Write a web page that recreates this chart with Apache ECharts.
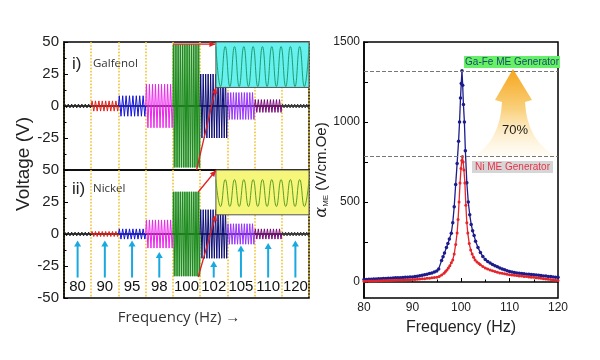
<!DOCTYPE html>
<html><head><meta charset="utf-8">
<script src="https://cdn.jsdelivr.net/npm/echarts@6/dist/echarts.min.js"></script>
<style>html,body{margin:0;padding:0;background:#fff}#c{width:600px;height:360px}</style>
</head><body><div id="c"></div>
<script>
// ---- data ----
const freqLabels = ['80','90','95','98','100','102','105','110','120'];
const galfenolAmp = [1.5, 4, 8, 17, 48, 25, 10.5, 5, 1.5];   // V, upper panel
const nickelAmp   = [1.5, 2, 4, 11, 33, 19, 8, 4, 1.5];      // V, lower panel
const arrowTips   = [-5, -5, -5, -14, null, -21, -9, -7, -5];
const galfenolPeak = 1320;
const nickelPeak = 785;
const galfenolCurve = [[80,15],[80.5,16],[81,17],[81.5,17],[82,18],[82.5,19],[83,20],[83.5,21],[84,22],[84.5,22],[85,23],[85.5,24],[86,25],[86.5,26],[87,27],[87.5,27],[88,28],[88.5,29],[89,30],[89.5,31],[90,32],[90.5,34],[91,36],[91.5,39],[92,42],[92.5,45],[93,49],[93.5,53],[94,57],[94.5,62],[95,68],[95.4,82],[96,135],[96.3,158],[96.6,182],[97,215],[97.3,240],[97.6,268],[98,305],[98.3,370],[98.6,470],[98.9,610],[99.2,740],[99.5,880],[99.7,1000],[99.9,1150],[100.05,1240],[100.2,1320],[100.35,1230],[100.5,1110],[100.7,1000],[100.9,820],[101.2,620],[101.5,500],[101.8,420],[102.1,360],[102.4,320],[102.7,290],[103,255],[103.5,215],[104,185],[104.5,160],[105,140],[105.5,128],[106,118],[106.5,110],[107,102],[107.5,95],[108,88],[108.5,82],[109,76],[109.5,71],[110,66],[110.5,63],[111,60],[111.5,57],[112,55],[112.5,53],[113,51],[113.5,49],[114,48],[114.5,47],[115,46],[115.5,44],[116,42],[116.5,40],[117,38],[117.5,37],[118,35],[118.5,34],[119,32],[119.5,30],[120,29]];
const nickelCurve = [[80,5],[80.5,5],[81,6],[81.5,6],[82,7],[82.5,7],[83,8],[83.5,8],[84,9],[84.5,9],[85,10],[85.5,10],[86,11],[86.5,11],[87,12],[87.5,12],[88,13],[88.5,13],[89,14],[89.5,14],[90,15],[90.5,16],[91,17],[91.5,18],[92,20],[92.5,21],[93,23],[93.5,24],[94,26],[94.5,28],[95,30],[95.5,35],[96,43],[96.5,55],[96.8,65],[97.1,75],[97.4,88],[97.7,102],[98,120],[98.3,138],[98.6,175],[98.9,235],[99.2,306],[99.4,390],[99.6,500],[99.8,619],[100,710],[100.15,760],[100.3,785],[100.45,750],[100.6,700],[100.8,619],[101,480],[101.2,370],[101.4,306],[101.7,240],[102,200],[102.3,175],[102.6,155],[102.9,138],[103.3,125],[103.7,115],[104,108],[104.5,97],[105,88],[105.5,81],[106,75],[106.5,70],[107,65],[107.5,61],[108,57],[108.5,54],[109,51],[109.5,48],[110,46],[110.5,44],[111,42],[111.5,40],[112,38],[112.5,37],[113,35],[113.5,34],[114,32],[114.5,30],[115,29],[115.5,27],[116,25],[116.5,23],[117,21],[117.5,19],[118,17],[118.5,15],[119,13],[119.5,11],[120,10]];

// ---- styles ----
const segColors = ['#222222','#e8201a','#1414e0','#ee22ee','#1a8a1a','#0c0c78','#9933ff','#7a0a7a','#3a3a3a'];
const segCycles = [8, 8, 8, 9, 15, 11, 10, 9, 9];
const FONT = 'Liberation Sans, Arial, sans-serif';

function waveRender(params, api) {
  const i = api.value(0), amp = api.value(1);
  const c = api.coord([i, 0]);
  const sz = api.size([1, amp]);
  const bw = sz[0], a = sz[1];
  const n = segCycles[i] * 2;
  const x0 = c[0] - bw / 2;
  const pts = [[x0, c[1]]];
  for (let k = 0; k < n; k++) pts.push([x0 + (k + 0.5) * bw / n, c[1] + (k % 2 ? a : -a)]);
  pts.push([x0 + bw, c[1]]);
  return {type: 'polyline', shape: {points: pts}, style: {stroke: segColors[i], lineWidth: 1, fill: null}};
}

function arrowRender(params, api) {
  const i = api.value(0), t = api.value(1);
  const tip = api.coord([i, t]), base = api.coord([i, -34]);
  const h = 6, w = 3.5, col = '#1aa8e0';
  return {type: 'group', children: [
    {type: 'line', shape: {x1: tip[0], y1: base[1], x2: tip[0], y2: tip[1] + h - 1}, style: {stroke: col, lineWidth: 2}},
    {type: 'polygon', shape: {points: [[tip[0], tip[1]], [tip[0] - w, tip[1] + h], [tip[0] + w, tip[1] + h]]}, style: {fill: col}}
  ]};
}

function arrowHead(p0, p1, col) {
  const dx = p1[0] - p0[0], dy = p1[1] - p0[1];
  const L = Math.sqrt(dx*dx + dy*dy) || 1;
  const ux = dx / L, uy = dy / L, h = 6, w = 2.8;
  const bx = p1[0] - ux * h, by = p1[1] - uy * h;
  return {type: 'polygon', shape: {points: [[p1[0], p1[1]], [bx - uy * w, by + ux * w], [bx + uy * w, by - ux * w]]}, style: {fill: col}};
}

function insetRender(cfg) {
  return function (params, api) {
    const c0 = api.coord([0, 0]);
    const bw = api.size([1, 0])[0];
    const X = u => c0[0] - bw / 2 + u * bw;
    const Y = v => api.coord([0, v])[1];
    const x0 = X(cfg.x0), x1 = X(9), yt = Y(cfg.yt), yb = Y(cfg.yb);
    const n = cfg.cycles * 2;
    const pts = [];
    for (let k = 0; k <= n; k++) pts.push([x0 + k * (x1 - x0) / n, Y(cfg.mid + (k % 2 ? -cfg.amp : cfg.amp))]);
    const children = [
      {type: 'rect', shape: {x: x0, y: yt, width: x1 - x0, height: yb - yt}, style: {fill: cfg.fill, stroke: '#555', lineWidth: 1}},
      {type: 'polyline', shape: {points: pts, smooth: 0.5}, style: {stroke: cfg.wave, lineWidth: 1, fill: null}}
    ];
    cfg.lines.forEach(l => {
      const p0 = [X(l[0][0]), Y(l[0][1])], p1 = [X(l[1][0]), Y(l[1][1])];
      children.push({type: 'line', shape: {x1: p0[0], y1: p0[1], x2: p1[0], y2: p1[1]}, style: {stroke: '#e02020', lineWidth: 1.3}});
      children.push(arrowHead(p0, p1, '#e02020'));
    });
    return {type: 'group', children};
  };
}

function bigArrowRender(params, api) {
  return {type: 'path',
    shape: {pathData: 'M513 69 L532 100 L525 102 Q527 142 558 157 L472 157 Q500 142 502 102 L495 100 Z',
            x: 472, y: 69, width: 86, height: 88, layout: 'cover'},
    style: {fill: new echarts.graphic.LinearGradient(0, 0, 0, 1, [
      {offset: 0, color: '#f6a51c'}, {offset: 0.45, color: '#f9d07a'}, {offset: 1, color: 'rgba(255,248,230,0.35)'}])}};
}

const upperInset = {x0: 5.58, yt: 50, yb: 14.5, fill: '#66f0ee', wave: '#1f9c70', mid: 30.8, amp: 15.6, cycles: 10,
  lines: [[[4.0, 48.3], [5.56, 48.3]], [[4.87, -50], [5.58, 14.5]]]};
const lowerInset = {x0: 5.58, yt: 50, yb: 15, fill: '#f6f67a', wave: '#5a9e22', mid: 32, amp: 10.5, cycles: 10,
  lines: [[[4.93, 32.8], [5.58, 49.6]], [[4.93, -33.6], [5.58, 15]]]};

const leftX = (gi, showLabels) => ({
  type: 'category', gridIndex: gi, data: freqLabels, boundaryGap: true,
  axisLine: {show: true, lineStyle: {color: '#000', width: 1.5}},
  axisTick: {show: false},
  axisLabel: showLabels ? {show: true, inside: true, interval: 0, margin: 4, fontSize: 15, color: '#111', fontFamily: FONT} : {show: false},
  splitLine: {show: true, interval: 0, lineStyle: {color: '#f2c230', type: 'dotted', width: 1.6}}
});
const leftY = (gi, hideMin) => ({
  type: 'value', gridIndex: gi, min: -50, max: 50, interval: 25,
  axisLine: {show: true, lineStyle: {color: '#000', width: 1.5}},
  axisTick: {show: true, inside: true, length: 4, lineStyle: {color: '#000'}},
  minorTick: {show: true, splitNumber: 2, length: 2.5, lineStyle: {color: '#000'}},
  axisLabel: {fontSize: 15, color: '#222', margin: 5, fontFamily: FONT, formatter: v => (hideMin && v === -50) ? '' : String(v)},
  splitLine: {show: false}
});

const chart = echarts.init(document.getElementById('c'), null, {renderer: 'canvas'});
chart.setOption({
  animation: false,
  backgroundColor: '#fff',
  grid: [
    {left: 64, top: 42, width: 245, height: 128, show: true, borderColor: '#000', borderWidth: 1.5, backgroundColor: 'transparent'},
    {left: 64, top: 170, width: 245, height: 128, show: true, borderColor: '#000', borderWidth: 1.5, backgroundColor: 'transparent'},
    {left: 364, top: 42, width: 194, height: 256, show: true, borderColor: '#000', borderWidth: 1.5, backgroundColor: 'transparent'}
  ],
  xAxis: [
    leftX(0, false), leftX(1, true),
    {type: 'value', gridIndex: 2, min: 80, max: 120, interval: 10,
      axisLine: {lineStyle: {color: '#000', width: 1.5}},
      axisTick: {inside: true, length: 4, lineStyle: {color: '#000'}},
      minorTick: {show: true, splitNumber: 2, length: 2.5, lineStyle: {color: '#000'}},
      axisLabel: {fontSize: 12, color: '#222', margin: 4, fontFamily: FONT, formatter: v => String(v)},
      splitLine: {show: false},
      name: 'Frequency (Hz)', nameLocation: 'middle', nameGap: 22,
      nameTextStyle: {fontSize: 16, color: '#222', fontFamily: FONT}}
  ],
  yAxis: [
    leftY(0, true), leftY(1, false),
    {type: 'value', gridIndex: 2, min: -100, max: 1500,
      axisLine: {show: true, lineStyle: {color: '#000', width: 1.5}},
      axisTick: {show: true, inside: true, length: 4, customValues: [0, 250, 500, 750, 1000, 1250, 1500], lineStyle: {color: '#000'}},
      axisLabel: {fontSize: 12, color: '#222', margin: 4, fontFamily: FONT, customValues: [0, 500, 1000, 1500], formatter: v => String(v)},
      splitLine: {show: false},
      name: '{a|α}{s|ME} (V/cm.Oe)', nameLocation: 'middle', nameGap: 29, nameRotate: 90,
      nameTextStyle: {fontSize: 15, color: '#222', fontFamily: FONT,
        rich: {a: {fontSize: 16, fontStyle: 'italic', fontFamily: 'DejaVu Serif, serif', color: '#222'},
               s: {fontSize: 8, verticalAlign: 'bottom', color: '#222', padding: [6, 0, 0, 0]}}}}
  ],
  series: [
    {type: 'custom', xAxisIndex: 0, yAxisIndex: 0, renderItem: waveRender, data: galfenolAmp.map((a, i) => [i, a]), z: 2},
    {type: 'custom', xAxisIndex: 1, yAxisIndex: 1, renderItem: waveRender, data: nickelAmp.map((a, i) => [i, a]), z: 2},
    {type: 'custom', xAxisIndex: 0, yAxisIndex: 0, renderItem: insetRender(upperInset), data: [[0, 0]], z: 3, clip: false},
    {type: 'custom', xAxisIndex: 1, yAxisIndex: 1, renderItem: insetRender(lowerInset), data: [[0, 0]], z: 3, clip: false},
    {type: 'custom', xAxisIndex: 1, yAxisIndex: 1, renderItem: arrowRender,
      data: arrowTips.map((t, i) => [i, t]).filter(d => d[1] !== null), z: 1},
    {type: 'custom', xAxisIndex: 2, yAxisIndex: 2, renderItem: bigArrowRender, data: [[100, 0]], z: 1, silent: true},
    {type: 'line', xAxisIndex: 2, yAxisIndex: 2, data: galfenolCurve, symbol: 'circle', symbolSize: 3.5, showSymbol: true,
      lineStyle: {color: '#1c1c8c', width: 1.3}, itemStyle: {color: '#1c1c8c'}, z: 3,
      markLine: {silent: true, symbol: 'none', label: {show: false}, lineStyle: {color: '#777', type: 'dashed', width: 1}, data: [{yAxis: galfenolPeak}]}},
    {type: 'line', xAxisIndex: 2, yAxisIndex: 2, data: nickelCurve, symbol: 'circle', symbolSize: 3, showSymbol: true,
      lineStyle: {color: '#e4262a', width: 1.3}, itemStyle: {color: '#e4262a'}, z: 4,
      markLine: {silent: true, symbol: 'none', label: {show: false}, lineStyle: {color: '#777', type: 'dashed', width: 1}, data: [{yAxis: nickelPeak}]}}
  ],
  graphic: [
    {type: 'text', x: 24, y: 164, rotation: Math.PI / 2, style: {text: 'Voltage (V)', font: '19px ' + FONT, fill: '#222', align: 'center', verticalAlign: 'middle'}},
    {type: 'text', x: 72, y: 64, style: {text: 'i)', font: '17px ' + FONT, fill: '#222', verticalAlign: 'middle'}},
    {type: 'text', x: 93, y: 64, style: {text: 'Galfenol', font: '11.5px Open Sans, sans-serif', fill: '#333', verticalAlign: 'middle'}},
    {type: 'text', x: 72, y: 189, style: {text: 'ii)', font: '17px ' + FONT, fill: '#222', verticalAlign: 'middle'}},
    {type: 'text', x: 93, y: 189, style: {text: 'Nickel', font: '11.5px Open Sans, sans-serif', fill: '#333', verticalAlign: 'middle'}},
    {type: 'text', x: 179, y: 318, style: {text: 'Frequency (Hz) →', font: '15px Open Sans, sans-serif', fill: '#333', align: 'center', verticalAlign: 'middle'}},
    {type: 'text', x: 515, y: 130, z: 5, style: {text: '70%', font: '13px ' + FONT, fill: '#222', align: 'center', verticalAlign: 'middle'}},
    {type: 'text', x: 512, y: 62, z: 5, style: {text: 'Ga-Fe ME Generator', font: '10px ' + FONT, fill: '#1c4a6c', align: 'center', verticalAlign: 'middle', backgroundColor: '#66f066', padding: [1, 1]}},
    {type: 'text', x: 512.5, y: 167, z: 5, style: {text: 'Ni ME Generator', font: '10px ' + FONT, fill: '#e8344a', align: 'center', verticalAlign: 'middle', backgroundColor: '#d6d6d6', padding: [1, 3]}}
  ]
});
</script></body></html>
